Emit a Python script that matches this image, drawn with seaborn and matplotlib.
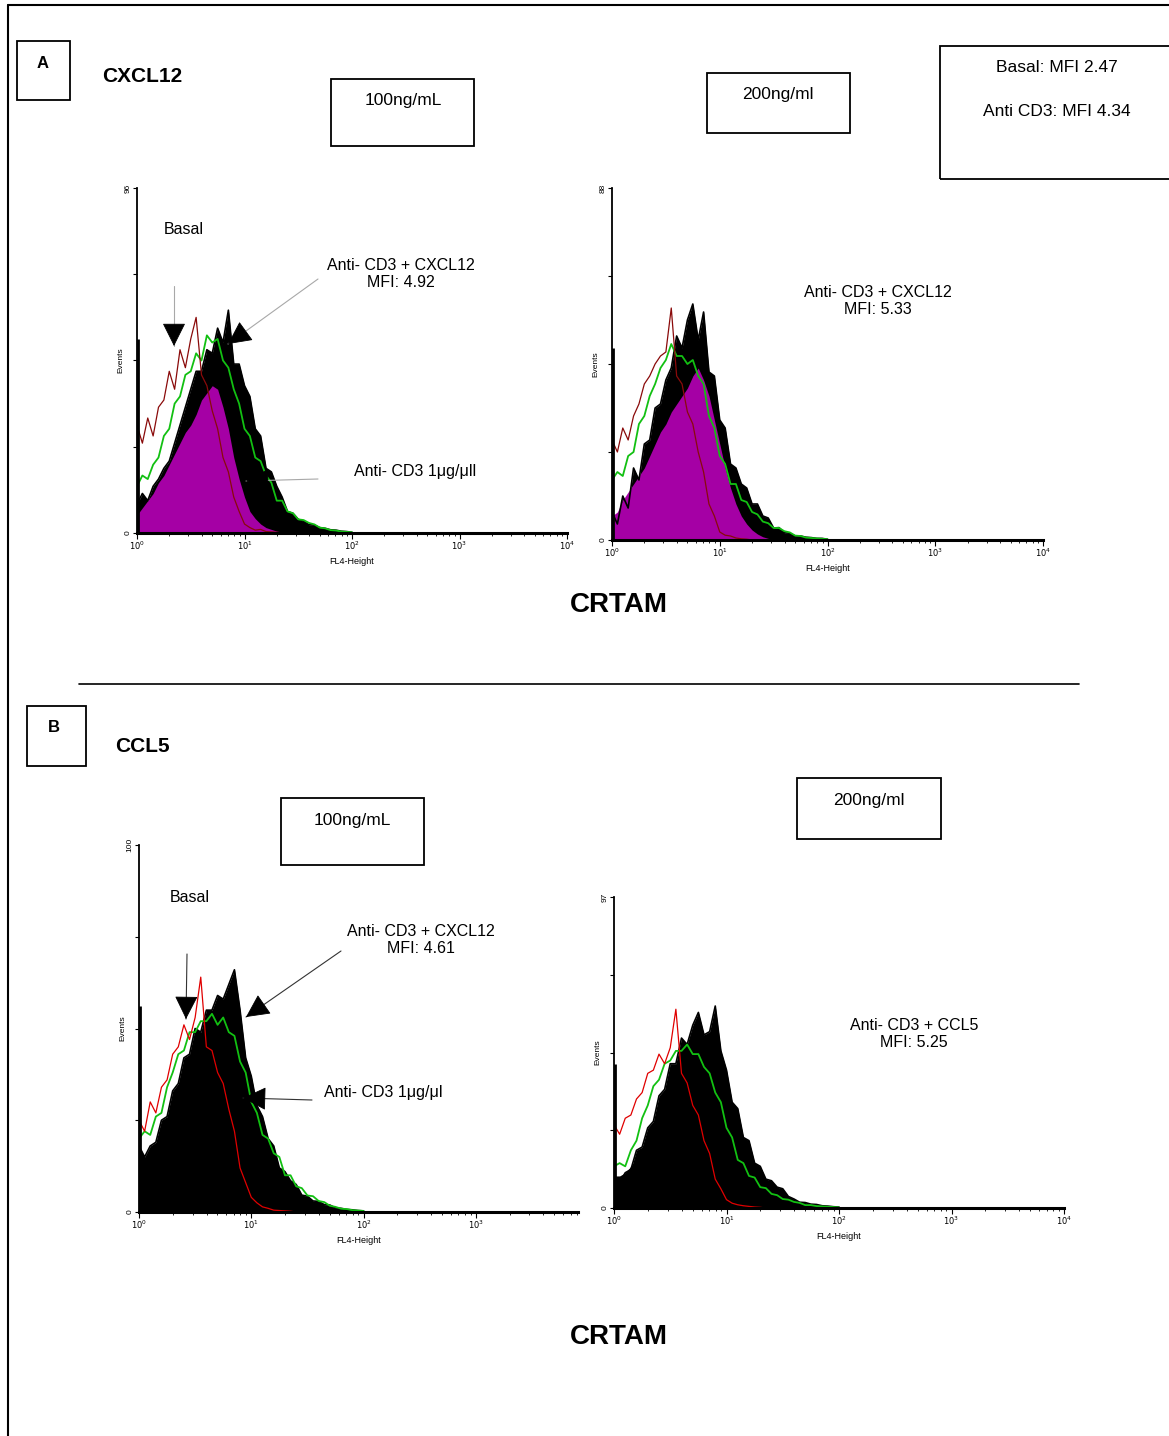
import numpy as np
import matplotlib
matplotlib.use("Agg")
import matplotlib.pyplot as plt
import seaborn as sns
from matplotlib.patches import Rectangle, FancyArrowPatch
from matplotlib.lines import Line2D
from matplotlib.ticker import LogLocator, NullFormatter

# ---------------- data ----------------
# FL4 channel position, log10 units
fl4_log = [0.00, 0.05, 0.10, 0.15, 0.20, 0.25, 0.30, 0.35, 0.40, 0.45,
           0.50, 0.55, 0.60, 0.65, 0.70, 0.75, 0.80, 0.85, 0.90, 0.95,
           1.00, 1.05, 1.10, 1.15, 1.20, 1.25, 1.30, 1.35, 1.40, 1.45,
           1.50, 1.55, 1.60, 1.65, 1.70, 1.75, 1.80, 1.85, 1.90, 1.95, 2.00]

# Panel A, CXCL12 100 ng/mL
basal_A100 = [30, 25, 32, 27, 35, 37, 45, 40, 51, 46, 54, 60, 44, 41, 34, 29, 21, 17, 10, 6,
              2.5, 1.5, 0.8, 1.0, 0.4, 0.3, 0.2, 0, 0, 0, 0, 0, 0, 0, 0, 0, 0, 0, 0, 0, 0]
antiCD3_A100 = [5, 7, 9, 11, 14, 16, 19, 22, 25, 28, 30, 33, 37, 39, 41, 40, 35, 29, 21, 15,
                10, 6, 4, 2.5, 1.5, 1.0, 0.5, 0.3, 0.2, 0, 0, 0, 0, 0, 0, 0, 0, 0, 0, 0, 0]
chemo_A100 = [8, 11, 9, 13, 15, 18, 20, 25, 30, 35, 40, 45, 45, 51, 50, 57, 53, 62, 47, 47,
              41, 38, 29, 27, 18, 17, 13, 10, 6, 5.5, 3.8, 3.3, 2.3, 2.2, 1.5, 1.3, 0.9, 0.8, 0.5, 0.4, 0.2]
green_A100 = [13, 16, 15, 19, 21, 27, 29, 36, 38, 44, 45, 50, 48, 55, 53, 54, 48, 46, 40, 36,
              29, 27, 21, 20, 16, 14, 9, 9, 6, 5.5, 3.8, 3.6, 2.8, 2.4, 1.5, 1.3, 0.8, 0.7, 0.4, 0.3, 0.2]

# Panel A, CXCL12 200 ng/ml
basal_A200 = [25, 22, 28, 25, 31, 34, 39, 41, 44, 46, 47, 58, 41, 39, 32, 29, 22, 17, 9, 6,
              2, 1.2, 1.0, 0.5, 0.3, 0.2, 0, 0, 0, 0, 0, 0, 0, 0, 0, 0, 0, 0, 0, 0, 0]
antiCD3_A200 = [6, 7, 10, 12, 14, 16, 18, 21, 24, 27, 29, 32, 34, 36, 38, 41, 43, 40, 36, 30,
                24, 18, 13, 9, 6, 4, 2.5, 1.5, 0.8, 0.4, 0.2, 0, 0, 0, 0, 0, 0, 0, 0, 0, 0]
chemo_A200 = [7, 4, 11, 8, 18, 15, 24, 25, 33, 34, 40, 43, 51, 48, 55, 59, 50, 57, 42, 41,
              30, 28, 19, 18, 14, 13, 9, 9, 6, 5.5, 3, 3.1, 1.8, 1.7, 1.0, 1.0, 0.7, 0.6, 0.4, 0.4, 0.2]
green_A200 = [15, 17, 16, 21, 22, 29, 31, 36, 39, 43, 45, 49, 46, 46, 44, 45, 41, 39, 31, 28,
              21, 19, 14, 14, 10, 9.5, 7, 6.4, 4.6, 4.2, 3.0, 3.0, 2.2, 1.9, 1.1, 1.0, 0.6, 0.5, 0.4, 0.3, 0.2]

# Panel B, CCL5 100 ng/mL
basal_B100 = [25, 22, 30, 27, 34, 36, 43, 45, 51, 47, 53, 64, 45, 44, 38, 35, 28, 22, 12, 8,
              4, 2.5, 1.4, 1.0, 0.5, 0.4, 0.3, 0.2, 0, 0, 0, 0, 0, 0, 0, 0, 0, 0, 0, 0, 0]
antiCD3_B100 = [10, 11, 12, 14, 16, 19, 22, 26, 30, 33, 36, 38, 40, 41, 42, 40, 38, 34, 30, 25,
                20, 16, 12, 9, 7, 5, 4, 3, 2, 1.5, 1, 0.7, 0.5, 0.3, 0.2, 0, 0, 0, 0, 0, 0]
chemo_B100 = [18, 15, 18, 19, 25, 26, 33, 35, 42, 43, 50, 49, 55, 55, 59, 58, 62, 66, 55, 42,
              37, 29, 26, 20, 18, 12, 11, 8.5, 7.5, 4.6, 4.3, 3.0, 2.9, 2.0, 1.9, 1.1, 1.0, 0.7, 0.6, 0.4, 0.3]
green_B100 = [20, 22, 21, 26, 27, 34, 38, 43, 44, 49, 49, 52, 52, 54, 51, 53, 49, 48, 41, 38,
              30, 27, 21, 20, 16, 15, 10, 10, 7, 6.5, 4.5, 4.3, 3, 2.7, 1.7, 1.4, 0.9, 0.8, 0.5, 0.4, 0.3]

# Panel B, CCL5 200 ng/ml
basal_B200 = [26, 23, 28, 29, 34, 36, 42, 43, 48, 45, 50, 62, 42, 39, 32, 29, 21, 17, 9, 6,
              2.6, 1.5, 1.0, 0.7, 0.5, 0.3, 0.2, 0, 0, 0, 0, 0, 0, 0, 0, 0, 0, 0, 0, 0, 0]
antiCD3_B200 = [10, 10, 11, 13, 15, 17, 20, 23, 27, 30, 33, 35, 37, 38, 38, 36, 33, 30, 26, 21,
                17, 13, 10, 8, 6, 4.5, 3, 2.2, 1.5, 1.1, 0.8, 0.6, 0.4, 0.3, 0.2, 0, 0, 0, 0, 0, 0]
chemo_B200 = [9, 8, 11, 12, 18, 19, 25, 27, 35, 37, 45, 45, 53, 51, 57, 61, 54, 55, 63, 49,
              43, 33, 31, 22, 21, 14, 13, 9, 8.5, 6.5, 6, 3.6, 2.8, 1.8, 1.7, 1.2, 1.1, 0.7, 0.6, 0.4, 0.3]
green_B200 = [13, 14, 13, 18, 21, 28, 32, 38, 40, 45, 46, 49, 49, 51, 48, 48, 44, 42, 36, 33,
              25, 22, 15, 14, 10, 9.5, 6.5, 6.2, 4.4, 4.0, 2.8, 2.6, 1.9, 1.6, 0.9, 0.9, 0.6, 0.5, 0.4, 0.3, 0.2]

# first-channel pile-up (channel 1)
first_channel = {"A100": 54, "A200": 48, "B100": 56, "B200": 45}

# axis maxima (Events) and x decades
ymax_vals = {"A100": 96, "A200": 88, "B100": 100, "B200": 97}
xdec_vals = {"A100": 4.0, "A200": 4.0, "B100": 3.91, "B200": 4.0}
xtick_labels = [r"$10^0$", r"$10^1$", r"$10^2$", r"$10^3$", r"$10^4$"]

# ---------------- style ----------------
sns.set_theme(style="ticks")
plt.rcParams.update({
    "axes.edgecolor": "black", "xtick.color": "black", "ytick.color": "black",
    "axes.labelcolor": "black", "text.color": "black", "axes.linewidth": 1.2,
})
plt.rcParams["font.family"] = ["Liberation Sans", "DejaVu Sans"]

W, H = 1169, 1436
fig = plt.figure(figsize=(W / 100, H / 100), dpi=100)
fig.patch.set_facecolor("white")


def fx(x):
    return x / W


def fy(y):
    return 1 - y / H


def px_axes(x0, x1, ytop, ybot):
    return fig.add_axes([fx(x0), fy(ybot), (x1 - x0) / W, (ybot - ytop) / H])


def box(x0, y0, x1, y1):
    fig.add_artist(Rectangle((fx(x0), fy(y1)), (x1 - x0) / W, (y1 - y0) / H,
                             transform=fig.transFigure, fill=False, lw=1.3, ec="black"))


def ftext(x, y, s, ha="center", size=12.5, weight="normal", **kw):
    fig.text(fx(x), fy(y), s, ha=ha, va="center", fontsize=size, fontweight=weight,
             color="black", **kw)


def arrow(p0, p1, lc):
    # thin leader line plus solid black head at the tip
    fig.add_artist(Line2D([fx(p0[0]), fx(p1[0])], [fy(p0[1]), fy(p1[1])],
                          transform=fig.transFigure, color=lc, lw=0.8))
    d = np.array(p1, float) - np.array(p0, float)
    d = d / np.hypot(*d)
    q = np.array(p1, float) - 15 * d
    fig.add_artist(FancyArrowPatch((fx(q[0]), fy(q[1])), (fx(p1[0]), fy(p1[1])),
                                   transform=fig.transFigure,
                                   arrowstyle="-|>,head_length=1.0,head_width=0.5",
                                   mutation_scale=15, lw=0.6, color="black",
                                   shrinkA=0, shrinkB=0, zorder=5))


def draw_panel(ax, key, basal, anti, chemo, green, anti_color, red_color):
    ax.set_xscale("log")
    x = 10 ** np.array(fl4_log)
    ax.fill_between(x, 0, chemo, color="black", lw=0)
    sns.lineplot(x=x, y=chemo, ax=ax, color="black", linewidth=1.2)
    sns.lineplot(x=x, y=green, ax=ax, color="#12c012", linewidth=1.3)
    ax.fill_between(x, 0, anti, color=anti_color, lw=0)
    sns.lineplot(x=x, y=basal, ax=ax, color=red_color, linewidth=0.9)
    ax.vlines(1.02, 0, first_channel[key], color="black", lw=2)
    ymax = ymax_vals[key]
    dec = xdec_vals[key]
    ax.set_xlim(1, 10 ** dec)
    ax.set_ylim(0, ymax)
    n = int(np.floor(dec)) + 1
    ax.set_xticks([10 ** i for i in range(n)])
    ax.set_xticklabels(xtick_labels[:n], fontsize=6)
    ax.xaxis.set_minor_locator(LogLocator(base=10, subs=range(2, 10), numticks=20))
    ax.xaxis.set_minor_formatter(NullFormatter())
    ax.set_yticks([0, ymax / 4, ymax / 2, 3 * ymax / 4, ymax])
    ax.set_yticklabels(["0", "", "", "", str(ymax)], rotation=90, va="center", fontsize=6)
    ax.tick_params(axis="x", which="major", length=4, width=0.8, pad=1, direction="out")
    ax.tick_params(axis="x", which="minor", length=2, width=0.6, direction="out")
    ax.tick_params(axis="y", which="major", length=3, width=0.8, pad=1)
    for s in ["top", "right"]:
        ax.spines[s].set_visible(False)
    ax.spines["bottom"].set_linewidth(2.2)
    ax.spines["left"].set_linewidth(1.3)
    ax.set_ylabel("Events", fontsize=6, labelpad=0)
    ax.set_xlabel("FL4-Height", fontsize=6.5, labelpad=3,
                  family=["Liberation Sans Narrow", "Liberation Sans"])
    ax.set_facecolor("none")


# ---------------- outer frame & separators ----------------
fig.add_artist(Line2D([fx(8), fx(1169)], [fy(5), fy(5)], transform=fig.transFigure, color="black", lw=1.5))
fig.add_artist(Line2D([fx(8), fx(8)], [fy(5), fy(1436)], transform=fig.transFigure, color="black", lw=1.5))
fig.add_artist(Line2D([fx(79), fx(1079)], [fy(684), fy(684)], transform=fig.transFigure, color="black", lw=1.2))

# ---------------- panel A ----------------
box(17, 41, 70, 100)
ftext(43, 63, "A", size=12, weight="bold")
ftext(102, 77, "CXCL12", ha="left", size=15, weight="bold")
box(331, 79, 474, 146)
ftext(403, 101, "100ng/mL")
box(707, 73, 850, 133)
ftext(778, 95, "200ng/ml")
box(940, 46, 1175, 179)
ftext(1057, 68, "Basal: MFI 2.47")
ftext(1057, 111, "Anti CD3: MFI 4.34")

axA1 = px_axes(137, 567, 188, 533)
draw_panel(axA1, "A100", basal_A100, antiCD3_A100, chemo_A100, green_A100, "#a500a5", "#8a0a0a")
axA2 = px_axes(612, 1043, 188, 540)
draw_panel(axA2, "A200", basal_A200, antiCD3_A200, chemo_A200, green_A200, "#a500a5", "#8a0a0a")

ftext(164, 230, "Basal", ha="left", size=11.5)
ftext(401, 274, "Anti- CD3 + CXCL12\nMFI: 4.92", size=11.5)
ftext(354, 472, "Anti- CD3 1\u03bcg/\u03bcll", ha="left", size=11.5)
ftext(878, 301, "Anti- CD3 + CXCL12\nMFI: 5.33", size=11.5)
arrow((174, 286), (174, 346), "#a8a8a8")
arrow((318, 279), (228, 344), "#a8a8a8")
arrow((318, 479), (246, 481), "#a8a8a8")
ftext(619, 605, "CRTAM", size=20, weight="bold")

# ---------------- panel B ----------------
box(27, 706, 86, 766)
ftext(54, 728, "B", size=12, weight="bold")
ftext(115, 746, "CCL5", ha="left", size=15, weight="bold")
box(281, 798, 424, 865)
ftext(352, 820, "100ng/mL")
box(797, 778, 941, 839)
ftext(869, 801, "200ng/ml")

axB1 = px_axes(139, 578, 845, 1212)
draw_panel(axB1, "B100", basal_B100, antiCD3_B100, chemo_B100, green_B100, "black", "#e00000")
axB2 = px_axes(614, 1064, 897, 1208)
draw_panel(axB2, "B200", basal_B200, antiCD3_B200, chemo_B200, green_B200, "black", "#e00000")

ftext(170, 898, "Basal", ha="left", size=11.5)
ftext(421, 940, "Anti- CD3 + CXCL12\nMFI: 4.61", size=11.5)
ftext(324, 1092, "Anti- CD3 1\u03bcg/\u03bcl", ha="left", size=11.5)
ftext(914, 1034, "Anti- CD3 + CCL5\nMFI: 5.25", size=11.5)
arrow((187, 954), (186, 1019), "#333333")
arrow((341, 951), (246, 1017), "#333333")
arrow((312, 1100), (243, 1098), "#333333")
ftext(619, 1337, "CRTAM", size=20, weight="bold")

fig.savefig("out.png", dpi=100, facecolor="white")
